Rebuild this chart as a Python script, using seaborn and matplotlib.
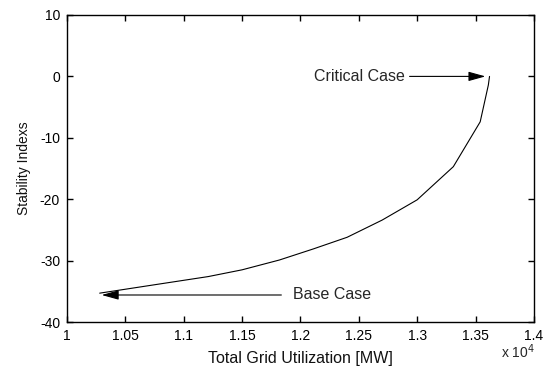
import matplotlib
matplotlib.use("Agg")
import matplotlib.pyplot as plt
import pandas as pd
import seaborn as sns

# grid utilization [MW] and stability index
utilization = [10280, 10830, 11210, 11500, 11820, 12110, 12400, 12700, 13000, 13310, 13540, 13610, 13620]
stability = [-35.3, -33.7, -32.6, -31.5, -29.9, -28.1, -26.2, -23.4, -20.1, -14.7, -7.4, -1.4, 0.0]

x_ticks = [1, 1.05, 1.1, 1.15, 1.2, 1.25, 1.3, 1.35, 1.4]
x_tick_labels = ["1", "1.05", "1.1", "1.15", "1.2", "1.25", "1.3", "1.35", "1.4"]
y_ticks = [-40, -30, -20, -10, 0, 10]

df = pd.DataFrame({"x": [u / 1e4 for u in utilization], "y": stability})

sns.set_theme(style="ticks")
plt.rcParams["font.family"] = ["Liberation Sans", "DejaVu Sans"]
plt.rcParams["axes.unicode_minus"] = False
plt.rcParams["xtick.direction"] = "in"
plt.rcParams["ytick.direction"] = "in"

fig = plt.figure(figsize=(5.47, 3.75), dpi=100)
ax = fig.add_axes([0.1225, 0.1413, 0.8535, 0.8187])

sns.lineplot(data=df, x="x", y="y", sort=False, estimator=None, color="black", linewidth=0.8, ax=ax)

ax.set_xlim(1, 1.4)
ax.set_ylim(-40, 10)
ax.set_xticks(x_ticks)
ax.set_xticklabels(x_tick_labels)
ax.set_yticks(y_ticks)
ax.tick_params(axis="x", which="major", direction="in", labelsize=10, labelcolor="black",
               color="black", length=4, width=1.0, bottom=True, top=True, pad=5)
ax.tick_params(axis="y", which="major", direction="in", labelsize=10, labelcolor="black",
               color="black", length=4, width=1.0, left=True, right=True, pad=5)
ax.set_axisbelow(False)
for s in ax.spines.values():
    s.set_visible(True)
    s.set_color("black")
    s.set_linewidth(1.0)

ax.set_xlabel("Total Grid Utilization [MW]", fontsize=11.5, color="#111111", labelpad=6)
ax.set_ylabel("Stability Indexs", fontsize=10, color="#111111", labelpad=6)
ax.text(1.003, -0.098, r"x 10$^{4}$", transform=ax.transAxes, ha="right", va="center", fontsize=10)

arrow = dict(arrowstyle="-|>,head_length=0.9,head_width=0.25", color="black",
             linewidth=0.8, shrinkA=1, shrinkB=0)
ax.annotate("Critical Case", xy=(1.3585, 0.0), xytext=(1.2895, 0.0),
            ha="right", va="center", fontsize=11.5, arrowprops=arrow)
ax.annotate("Base Case", xy=(1.0297, -35.6), xytext=(1.1936, -35.6),
            ha="left", va="center", fontsize=11.5, arrowprops=dict(arrow, shrinkA=6))

fig.savefig("out.png", dpi=100)
